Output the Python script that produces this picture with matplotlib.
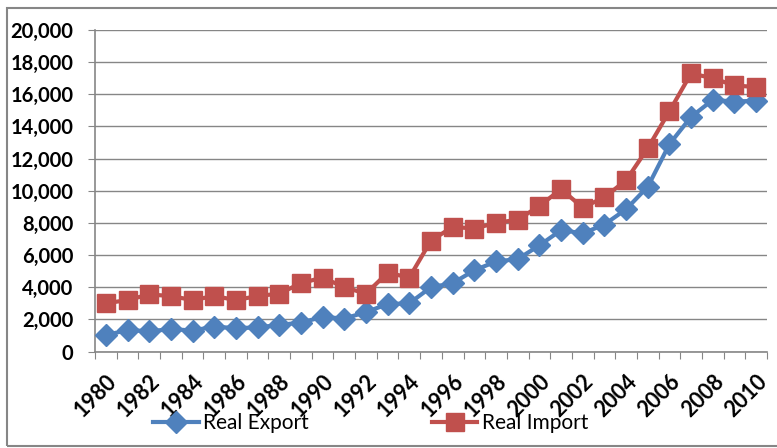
import numpy as np
import matplotlib
matplotlib.use('Agg')
import matplotlib.pyplot as plt
from matplotlib import font_manager
from matplotlib.patches import Rectangle

# data
years = list(range(1980, 2011))
real_export = [1000, 1350, 1250, 1400, 1300, 1550, 1450, 1500, 1650, 1800,
               2150, 2050, 2450, 2950, 3000, 4000, 4250, 5050, 5600, 5750,
               6600, 7550, 7350, 7900, 8850, 10250, 12900, 14600, 15650, 15550,
               15600]
real_import = [3000, 3200, 3550, 3450, 3200, 3450, 3200, 3450, 3600, 4250,
               4600, 4000, 3600, 4900, 4600, 6900, 7750, 7650, 8000, 8200,
               9050, 10100, 8950, 9600, 10650, 12650, 14950, 17300, 17000, 16550,
               16450]

names = {f.name for f in font_manager.fontManager.ttflist}
font = 'Liberation Sans Narrow' if 'Liberation Sans Narrow' in names else 'Lato'
plt.rcParams['font.family'] = [font, 'DejaVu Sans']

W, H = 777, 448
fig = plt.figure(figsize=(W / 100, H / 100), dpi=100)
ax = fig.add_axes([95 / W, 1 - 351.5 / H, 672 / W, (351.5 - 30) / H])

x = np.arange(len(years))
ax.plot(x, real_export, color='#4F81BD', lw=3, marker='D', ms=11, label='Real Export', zorder=3, clip_on=False)
ax.plot(x, real_import, color='#C0504D', lw=3, marker='s', ms=13, label='Real Import', zorder=3, clip_on=False)

ax.set_xlim(-0.5, len(years) - 0.5)
ax.set_ylim(0, 20000)
ax.set_yticks(range(0, 20001, 2000))
ax.yaxis.set_major_formatter(lambda v, p: f'{v:,.0f}')
for lab in ax.get_yticklabels():
    lab.set_fontweight('bold')
ax.tick_params(axis='y', length=5, color='#868686', labelsize=14.5, pad=10.5)

# tick marks between categories, labels every other year
ax.set_xticks(np.arange(-0.5, len(years), 1))
ax.set_xticklabels([])
ax.tick_params(axis='x', which='major', length=5, color='#868686')
ax.set_xticks(x[::2], minor=True)
ax.set_xticklabels([str(y) for y in years[::2]], minor=True, rotation=45, ha='right',
                   rotation_mode='anchor', fontweight='bold', fontsize=15.5)
ax.tick_params(axis='x', which='minor', length=0, pad=14)

ax.grid(axis='y', color='#868686', lw=1)
ax.set_axisbelow(True)
for s in ['top', 'right']:
    ax.spines[s].set_visible(False)
for s in ['left', 'bottom']:
    ax.spines[s].set_color('#868686')
    ax.spines[s].set_linewidth(1.2)

leg = fig.legend(loc='center left', bbox_to_anchor=(153 / W, 1 - 423 / H), ncol=2,
                 frameon=False, fontsize=15, handlelength=2.2, handletextpad=0.2,
                 columnspacing=5.9, borderpad=0, borderaxespad=0)

fig.patches.append(Rectangle((7 / W, 1 - 446 / H), 2, (446 - 8) / H, transform=fig.transFigure,
                             fill=False, edgecolor='#868686', lw=1.5))

fig.savefig('out.png', dpi=100)
